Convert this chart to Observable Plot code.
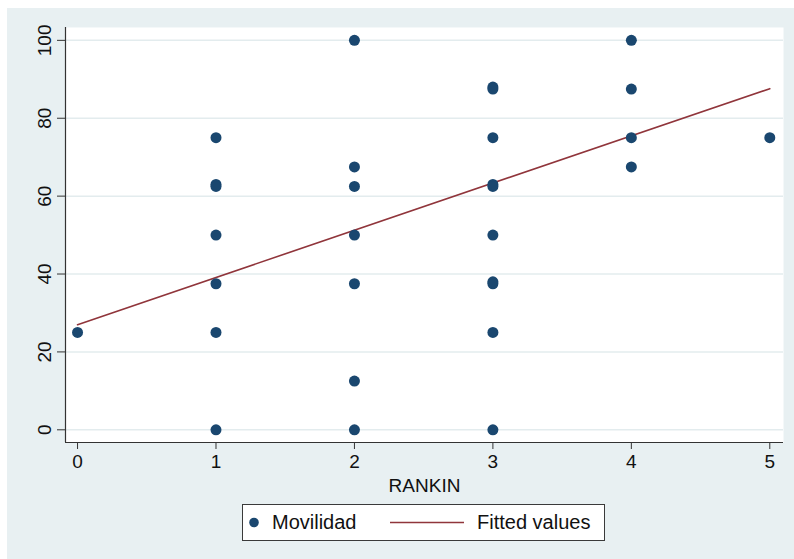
<!DOCTYPE html>
<html>
<head>
<meta charset="utf-8">
<script src="https://cdn.jsdelivr.net/npm/d3@7"></script>
<script src="https://cdn.jsdelivr.net/npm/@observablehq/plot@0.6"></script>
<style>
  body { margin: 0; background: #ffffff; font-family: "Liberation Sans", Arial, Helvetica, sans-serif; }
  #bg { position: absolute; left: 7px; top: 8px; width: 787px; height: 551px; background: #e8f0f2; }
  #chart { position: absolute; left: 0; top: 0; }
  #chart svg { background: transparent; }
  #chart svg g[aria-label="y-axis tick label"] text,
  #chart svg g[aria-label="x-axis tick label"] text { font-size: 19px !important; }
  #chart svg g[aria-label="x-axis label"] text { font-size: 19px !important; }
  #legend { position: absolute; left: 242px; top: 504px; width: 361px; height: 35px;
            border: 1px solid #3a3a3a; background: #fff; }
  .lg { position: absolute; top: 0; height: 35px; line-height: 35px; font-size: 20px; color: #111; white-space: nowrap; }
</style>
</head>
<body>
<div id="bg"></div>
<div id="chart"></div>
<div id="legend"></div>
<script>
// ---- data ----
const rankin    = [0, 1, 1, 1, 1, 1, 1, 1, 2, 2, 2, 2, 2, 2, 2, 3, 3, 3, 3, 3, 3, 3, 3, 3, 3, 4, 4, 4, 4, 5];
const movilidad = [25, 75, 63, 62.5, 50, 37.5, 25, 0, 100, 67.5, 62.5, 50, 37.5, 12.5, 0,
                   88, 87.5, 75, 63, 62.5, 50, 38, 37.5, 25, 0, 100, 87.5, 75, 67.5, 75];
const fitX = [0, 5];
const fitY = [27.0, 87.6];
const xTicks = [0, 1, 2, 3, 4, 5];
const yTicks = [0, 20, 40, 60, 80, 100];
const seriesNames = ["Movilidad", "Fitted values"];
const xTitle = "RANKIN";
const xDomain = [-0.087, 5.099];
const yDomain = [-3.26, 103.3];

const dotColor = "#1a476f";
const lineColor = "#90353b";

const points = rankin.map((x, i) => ({x, y: movilidad[i]}));
const fit = fitX.map((x, i) => ({x, y: fitY[i]}));

const chart = Plot.plot({
  width: 794,
  height: 500,
  marginLeft: 65,
  marginRight: 11,
  marginTop: 27,
  marginBottom: 58,
  style: { fontFamily: "Liberation Sans, Arial, Helvetica, sans-serif", fontSize: "19px", color: "#111", background: "transparent" },
  x: { domain: xDomain },
  y: { domain: yDomain },
  marks: [
    Plot.frame({ fill: "white", stroke: null }),
    Plot.gridY(yTicks, { stroke: "#e3ecee", strokeOpacity: 1, strokeWidth: 1.5 }),
    Plot.ruleX([xDomain[0]], { stroke: "#333", strokeWidth: 1.2 }),
    Plot.ruleY([yDomain[0]], { stroke: "#333", strokeWidth: 1.2 }),
    Plot.axisY(yTicks, { tickSize: 8, tickPadding: 7, tickRotate: -90, stroke: "#333", label: null, fontSize: 19, tickFormat: d3.format("d") }),
    Plot.axisX(xTicks, { tickSize: 7, tickPadding: 5, stroke: "#333", label: null, fontSize: 19, tickFormat: d3.format("d") }),
    Plot.axisX({ ticks: [], tickSize: 0, label: xTitle, labelAnchor: "center", labelOffset: 49, labelArrow: "none", fontSize: 19 }),
    Plot.line(fit, { x: "x", y: "y", stroke: lineColor, strokeWidth: 1.6 }),
    Plot.dot(points, { x: "x", y: "y", r: 5.5, fill: dotColor, stroke: null })
  ]
});
document.getElementById("chart").appendChild(chart);

// ---- legend ----
const lg = document.getElementById("legend");
lg.innerHTML = `
  <svg style="position:absolute;left:0;top:0" width="361" height="35">
    <circle cx="11" cy="17.5" r="4.8" fill="${dotColor}"></circle>
    <line x1="147" x2="221" y1="17.5" y2="17.5" stroke="${lineColor}" stroke-width="1.6"></line>
  </svg>
  <div class="lg" style="left:29px">${seriesNames[0]}</div>
  <div class="lg" style="left:234px">${seriesNames[1]}</div>`;
</script>
</body>
</html>
